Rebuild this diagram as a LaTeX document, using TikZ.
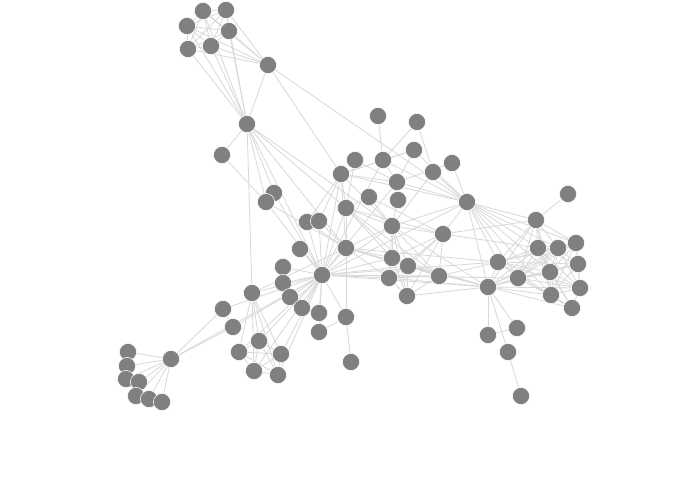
\documentclass[tikz,border=0pt]{standalone}
\usepackage{tikz}
\usetikzlibrary{backgrounds}

\begin{document}
\begin{tikzpicture}[x=0.025cm, y=-0.025cm,
	actor/.style={circle, fill=gray, draw=white, line width=0.4pt, minimum size=0.43cm, inner sep=0pt},
	link/.style={draw=gray!30, line width=0.6pt}]
\useasboundingbox (0,0) rectangle (700,500);
% bishop
\node[actor] (Myriel) at (171,359) {};
\node[actor] (Napoleon) at (128,352) {};
\node[actor] (CountessDeLo) at (127,366) {};
\node[actor] (Geborand) at (126,379) {};
\node[actor] (Champtercier) at (139,382) {};
\node[actor] (Cravatte) at (136,396) {};
\node[actor] (Count) at (149,399) {};
\node[actor] (OldMan) at (162,402) {};
\node[actor] (MlleBaptistine) at (223,309) {};
\node[actor] (MmeMagloire) at (233,327) {};
% valjean
\node[actor] (Valjean) at (322,275) {};
\node[actor] (Labarre) at (300,249) {};
\node[actor] (MmeDeR) at (283,267) {};
\node[actor] (Isabeau) at (283,283) {};
\node[actor] (Gervais) at (290,297) {};
\node[actor] (Scaufflaire) at (302,308) {};
\node[actor] (Woman1) at (319,313) {};
\node[actor] (Marguerite) at (274,193) {};
\node[actor] (Simplice) at (266,202) {};
\node[actor] (Perpetue) at (222,155) {};
% fantine
\node[actor] (Tholomyes) at (268,65) {};
\node[actor] (Listolier) at (203,11) {};
\node[actor] (Fameuil) at (226,10) {};
\node[actor] (Blacheville) at (187,26) {};
\node[actor] (Favourite) at (229,31) {};
\node[actor] (Dahlia) at (188,49) {};
\node[actor] (Zephine) at (211,46) {};
\node[actor] (Fantine) at (247,124) {};
% trial
\node[actor] (Bamatabois) at (252,293) {};
\node[actor] (Judge) at (259,341) {};
\node[actor] (Champmathieu) at (239,352) {};
\node[actor] (Brevet) at (281,354) {};
\node[actor] (Chenildieu) at (254,371) {};
\node[actor] (Cochepaille) at (278,375) {};
% convent
\node[actor] (Javert) at (346,248) {};
\node[actor] (Fauchelevent) at (346,317) {};
\node[actor] (MotherInnocent) at (319,332) {};
\node[actor] (Gribier) at (351,362) {};
\node[actor] (Woman2) at (307,222) {};
\node[actor] (Toussaint) at (319,221) {};
\node[actor] (Cosette) at (341,174) {};
% thenardiers
\node[actor] (MmeThenardier) at (346,208) {};
\node[actor] (Thenardier) at (392,226) {};
\node[actor] (Anzelma) at (369,197) {};
\node[actor] (Boulatruelle) at (398,200) {};
\node[actor] (Eponine) at (443,234) {};
\node[actor] (Gueulemer) at (392,258) {};
\node[actor] (Babet) at (408,266) {};
\node[actor] (Montparnasse) at (389,278) {};
\node[actor] (Claquesous) at (439,276) {};
\node[actor] (Brujon) at (407,296) {};
% gillenormand
\node[actor] (Magnon) at (355,160) {};
\node[actor] (MlleGillenormand) at (383,160) {};
\node[actor] (MlleVaubois) at (378,116) {};
\node[actor] (MmePontmercy) at (417,122) {};
\node[actor] (LtGillenormand) at (414,150) {};
\node[actor] (Gillenormand) at (397,182) {};
\node[actor] (Pontmercy) at (433,172) {};
\node[actor] (BaronessT) at (452,163) {};
\node[actor] (Marius) at (467,202) {};
% barricade
\node[actor] (MotherPlutarch) at (568,194) {};
\node[actor] (Mabeuf) at (536,220) {};
\node[actor] (Enjolras) at (498,262) {};
\node[actor] (Bossuet) at (518,278) {};
\node[actor] (Courfeyrac) at (538,248) {};
\node[actor] (Combeferre) at (558,248) {};
\node[actor] (Feuilly) at (576,243) {};
\node[actor] (Prouvaire) at (578,264) {};
\node[actor] (Joly) at (550,272) {};
\node[actor] (Grantaire) at (580,288) {};
\node[actor] (Bahorel) at (551,295) {};
\node[actor] (MmeHucheloup) at (572,308) {};
\node[actor] (Gavroche) at (488,287) {};
\node[actor] (Child1) at (488,335) {};
\node[actor] (Child2) at (517,328) {};
\node[actor] (MmeBurgon) at (508,352) {};
\node[actor] (Jondrette) at (521,396) {};

\begin{scope}[on background layer]
\path[link]
(Napoleon) edge (Myriel)
(MlleBaptistine) edge (Myriel)
(MmeMagloire) edge (Myriel) edge (MlleBaptistine)
(CountessDeLo) edge (Myriel)
(Geborand) edge (Myriel)
(Champtercier) edge (Myriel)
(Cravatte) edge (Myriel)
(Count) edge (Myriel)
(OldMan) edge (Myriel)
(Valjean) edge (Labarre) edge (MmeMagloire) edge (MlleBaptistine) edge (Myriel)
(Marguerite) edge (Valjean)
(MmeDeR) edge (Valjean)
(Isabeau) edge (Valjean)
(Gervais) edge (Valjean)
(Listolier) edge (Tholomyes)
(Fameuil) edge (Tholomyes) edge (Listolier)
(Blacheville) edge (Tholomyes) edge (Listolier) edge (Fameuil)
(Favourite) edge (Tholomyes) edge (Listolier) edge (Fameuil) edge (Blacheville)
(Dahlia) edge (Tholomyes) edge (Listolier) edge (Fameuil) edge (Blacheville) edge (Favourite)
(Zephine) edge (Tholomyes) edge (Listolier) edge (Fameuil) edge (Blacheville) edge (Favourite) edge (Dahlia)
(Fantine) edge (Tholomyes) edge (Listolier) edge (Fameuil) edge (Blacheville) edge (Favourite) edge (Dahlia) edge (Zephine) edge (Marguerite) edge (Valjean)
(MmeThenardier) edge (Fantine) edge (Valjean)
(Thenardier) edge (MmeThenardier) edge (Fantine) edge (Valjean)
(Cosette) edge (MmeThenardier) edge (Valjean) edge (Tholomyes) edge (Thenardier)
(Javert) edge (Valjean) edge (Fantine) edge (Thenardier) edge (MmeThenardier) edge (Cosette)
(Fauchelevent) edge (Valjean) edge (Javert)
(Bamatabois) edge (Fantine) edge (Javert) edge (Valjean)
(Perpetue) edge (Fantine)
(Simplice) edge (Perpetue) edge (Valjean) edge (Fantine) edge (Javert)
(Scaufflaire) edge (Valjean)
(Woman1) edge (Valjean)
(Judge) edge (Valjean) edge (Bamatabois)
(Champmathieu) edge (Valjean) edge (Judge) edge (Bamatabois)
(Brevet) edge (Judge) edge (Champmathieu) edge (Valjean) edge (Bamatabois)
(Chenildieu) edge (Judge) edge (Champmathieu) edge (Brevet) edge (Valjean) edge (Bamatabois)
(Cochepaille) edge (Judge) edge (Champmathieu) edge (Brevet) edge (Chenildieu) edge (Valjean) edge (Bamatabois)
(Pontmercy) edge (Thenardier)
(Boulatruelle) edge (Thenardier)
(Eponine) edge (MmeThenardier) edge (Thenardier)
(Anzelma) edge (Eponine) edge (Thenardier) edge (MmeThenardier)
(Woman2) edge (Valjean) edge (Cosette) edge (Javert)
(MotherInnocent) edge (Fauchelevent) edge (Valjean)
(Gribier) edge (Fauchelevent)
(MmeBurgon) edge (Jondrette)
(Gavroche) edge (MmeBurgon) edge (Thenardier) edge (Javert) edge (Valjean)
(Gillenormand) edge (Cosette) edge (Valjean)
(Magnon) edge (Gillenormand) edge (MmeThenardier)
(MlleGillenormand) edge (Gillenormand) edge (Cosette) edge (Valjean)
(MmePontmercy) edge (MlleGillenormand) edge (Pontmercy)
(MlleVaubois) edge (MlleGillenormand)
(LtGillenormand) edge (MlleGillenormand) edge (Gillenormand) edge (Cosette)
(Marius) edge (MlleGillenormand) edge (Gillenormand) edge (Pontmercy) edge (LtGillenormand) edge (Cosette) edge (Valjean) edge (Tholomyes) edge (Thenardier) edge (Eponine) edge (Gavroche)
(BaronessT) edge (Gillenormand) edge (Marius)
(Mabeuf) edge (Marius) edge (Eponine) edge (Gavroche)
(Enjolras) edge (Marius) edge (Gavroche) edge (Javert) edge (Mabeuf) edge (Valjean)
(Combeferre) edge (Enjolras) edge (Marius) edge (Gavroche) edge (Mabeuf)
(Prouvaire) edge (Gavroche) edge (Enjolras) edge (Combeferre)
(Feuilly) edge (Gavroche) edge (Enjolras) edge (Prouvaire) edge (Combeferre) edge (Mabeuf) edge (Marius)
(Courfeyrac) edge (Marius) edge (Enjolras) edge (Combeferre) edge (Gavroche) edge (Mabeuf) edge (Eponine) edge (Feuilly) edge (Prouvaire)
(Bahorel) edge (Combeferre) edge (Gavroche) edge (Courfeyrac) edge (Mabeuf) edge (Enjolras) edge (Feuilly) edge (Prouvaire) edge (Marius)
(Bossuet) edge (Marius) edge (Courfeyrac) edge (Gavroche) edge (Bahorel) edge (Enjolras) edge (Feuilly) edge (Prouvaire) edge (Combeferre) edge (Mabeuf) edge (Valjean)
(Joly) edge (Bahorel) edge (Bossuet) edge (Gavroche) edge (Courfeyrac) edge (Enjolras) edge (Feuilly) edge (Prouvaire) edge (Combeferre) edge (Mabeuf) edge (Marius)
(Grantaire) edge (Bossuet) edge (Enjolras) edge (Combeferre) edge (Courfeyrac) edge (Joly) edge (Gavroche) edge (Bahorel) edge (Feuilly) edge (Prouvaire)
(MotherPlutarch) edge (Mabeuf)
(Gueulemer) edge (Thenardier) edge (Valjean) edge (MmeThenardier) edge (Javert) edge (Gavroche) edge (Eponine)
(Babet) edge (Thenardier) edge (Gueulemer) edge (Valjean) edge (MmeThenardier) edge (Javert) edge (Gavroche) edge (Eponine)
(Claquesous) edge (Thenardier) edge (Babet) edge (Gueulemer) edge (Valjean) edge (MmeThenardier) edge (Javert) edge (Eponine) edge (Enjolras)
(Montparnasse) edge (Javert) edge (Babet) edge (Gueulemer) edge (Claquesous) edge (Valjean) edge (Gavroche) edge (Eponine) edge (Thenardier)
(Toussaint) edge (Cosette) edge (Javert) edge (Valjean)
(Child1) edge (Gavroche)
(Child2) edge (Gavroche) edge (Child1)
(Brujon) edge (Babet) edge (Gueulemer) edge (Thenardier) edge (Gavroche) edge (Eponine) edge (Claquesous) edge (Montparnasse)
(MmeHucheloup) edge (Bossuet) edge (Joly) edge (Grantaire) edge (Bahorel) edge (Courfeyrac) edge (Gavroche) edge (Enjolras)
;
\end{scope}
\end{tikzpicture}
\end{document}
